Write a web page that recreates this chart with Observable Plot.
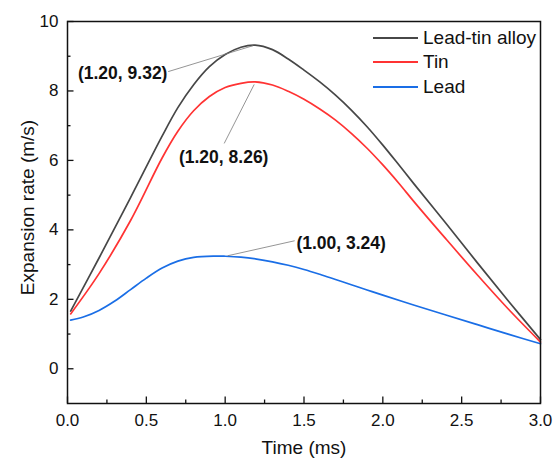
<!DOCTYPE html>
<html><head><meta charset="utf-8">
<script src="https://cdn.jsdelivr.net/npm/d3@7"></script>
<script src="https://cdn.jsdelivr.net/npm/@observablehq/plot@0.6"></script>
<style>
html,body{margin:0;padding:0;background:#fff;}
#wrap{position:relative;width:555px;height:458px;font-family:"Liberation Sans",Arial,sans-serif;}
#legend{position:absolute;left:373px;top:25.5px;font-size:19px;color:#111;}
.row{display:flex;align-items:center;height:24.5px;white-space:nowrap;}
.sw{width:45px;height:2px;margin-right:5px;}
</style></head><body><div id="wrap"></div>
<script>
// ---- data ----
const leadTinTime = [0.02, 0.2, 0.4, 0.6, 0.7, 0.8, 0.9, 1.0, 1.1, 1.19, 1.3, 1.4, 1.5, 1.6, 1.7, 1.8, 1.9, 2.0, 2.1, 2.2, 2.4, 2.6, 2.8, 3.0];
const leadTin     = [1.66, 3.19, 4.93, 6.70, 7.52, 8.18, 8.70, 9.05, 9.26, 9.32, 9.19, 8.92, 8.60, 8.26, 7.88, 7.45, 6.97, 6.44, 5.88, 5.31, 4.19, 3.05, 1.93, 0.84];
const tinTime     = [0.02, 0.2, 0.4, 0.6, 0.7, 0.8, 0.9, 1.0, 1.1, 1.19, 1.3, 1.4, 1.5, 1.6, 1.7, 1.8, 1.9, 2.0, 2.1, 2.2, 2.4, 2.6, 2.8, 3.0];
const tin         = [1.58, 2.74, 4.27, 6.07, 6.84, 7.43, 7.84, 8.10, 8.22, 8.26, 8.17, 7.99, 7.76, 7.48, 7.16, 6.78, 6.35, 5.87, 5.35, 4.80, 3.74, 2.70, 1.70, 0.77];
const leadTime    = [0.02, 0.1, 0.2, 0.3, 0.4, 0.5, 0.6, 0.7, 0.8, 0.93, 1.0, 1.1, 1.2, 1.3, 1.4, 1.5, 1.6, 1.7, 1.8, 1.9, 2.0, 2.2, 2.4, 2.6, 2.8, 3.0];
const lead        = [1.40, 1.49, 1.68, 1.95, 2.28, 2.61, 2.90, 3.10, 3.21, 3.245, 3.24, 3.215, 3.16, 3.08, 2.98, 2.86, 2.72, 2.57, 2.42, 2.27, 2.12, 1.83, 1.55, 1.27, 0.99, 0.72];
const seriesNames  = ["Lead-tin alloy", "Tin", "Lead"];
const seriesTimes  = [leadTinTime, tinTime, leadTime];
const seriesValues = [leadTin, tin, lead];
const seriesColors = ["#474747", "#ff3333", "#1a6ee6"];
const xTicks = [0, 0.5, 1, 1.5, 2, 2.5, 3];
const xMinor = [0.25, 0.75, 1.25, 1.75, 2.25, 2.75];
const yTicks = [0, 2, 4, 6, 8, 10];
const yMinor = [1, 3, 5, 7, 9];
const annX = [1.20, 1.20, 1.00];
const annY = [9.32, 8.26, 3.24];
const annLabels = ["(1.20, 9.32)", "(1.20, 8.26)", "(1.00, 3.24)"];

// ---- layout (pixel offsets, not data) ----
const labelOff  = [[-134, 28], [-33, 75], [116, -13]];
const leaderOff = [[-88, 27, -3, 1], [-32, 62, -2, 3], [70, -15, 3, 0]];
const W = 555, H = 458, mL = 67, mR = 15, mT = 21, mB = 55;
const innerW = W - mL - mR, innerH = H - mT - mB;
const FONT = '"Liberation Sans", Arial, sans-serif';

const rows = seriesNames.flatMap((s, k) => seriesTimes[k].map((t, i) => ({series: s, t, v: seriesValues[k][i]})));

function leaders(index, scales) {
  const g = d3.create("svg:g");
  annX.forEach((x, i) => {
    const px = scales.x(x), py = scales.y(annY[i]);
    const [a, b, c, d] = leaderOff[i];
    g.append("line").attr("x1", px + a).attr("y1", py + b).attr("x2", px + c).attr("y2", py + d)
      .attr("stroke", "#7a7a7a").attr("stroke-width", 0.8);
  });
  return g.node();
}

const annMarks = annLabels.map((lab, i) => Plot.text([i], {
  x: j => annX[j], y: j => annY[j], text: j => annLabels[j],
  dx: labelOff[i][0], dy: labelOff[i][1], fontWeight: "bold", fontSize: 17.5, fill: "#111"
}));

const chart = Plot.plot({
  width: W, height: H,
  marginLeft: mL, marginRight: mR, marginTop: mT, marginBottom: mB,
  style: {fontFamily: FONT, background: "#fff", color: "#111"},
  x: {domain: [0, 3]},
  y: {domain: [-1, 10]},
  color: {domain: seriesNames, range: seriesColors},
  marks: [
    Plot.line(rows, {x: "t", y: "v", z: "series", stroke: "series", strokeWidth: 1.7, curve: "catmull-rom"}),
    leaders,
    ...annMarks,
    Plot.tickX(xTicks, {x: d => d, insetTop: innerH - 6.5, stroke: "#111", strokeWidth: 1.3}),
    Plot.tickX(xMinor, {x: d => d, insetTop: innerH - 3.5, stroke: "#111", strokeWidth: 1.3}),
    Plot.tickY(yTicks, {y: d => d, insetRight: innerW - 6.5, stroke: "#111", strokeWidth: 1.3}),
    Plot.tickY(yMinor, {y: d => d, insetRight: innerW - 3.5, stroke: "#111", strokeWidth: 1.3}),
    Plot.axisX({ticks: xTicks, tickSize: 0, tickPadding: 10, tickFormat: d3.format(".1f"), fontSize: 17, label: null}),
    Plot.axisY({ticks: yTicks, tickSize: 0, tickPadding: 9, tickFormat: d3.format("d"), fontSize: 17, label: null}),
    Plot.text(["Time (ms)"], {frameAnchor: "bottom", dy: 44, lineAnchor: "middle", textAnchor: "middle", fontSize: 19, fill: "#111"}),
    Plot.text(["Expansion rate (m/s)"], {frameAnchor: "left", dx: -40, dy: -5, rotate: -90, textAnchor: "middle", lineAnchor: "middle", fontSize: 19, fill: "#111"}),
    Plot.frame({stroke: "#111", strokeWidth: 1.5})
  ]
});

const wrap = document.getElementById("wrap");
wrap.appendChild(chart);
const legend = document.createElement("div");
legend.id = "legend";
seriesNames.forEach((s, k) => {
  const row = document.createElement("div");
  row.className = "row";
  const sw = document.createElement("span");
  sw.className = "sw";
  sw.style.background = seriesColors[k];
  const tx = document.createElement("span");
  tx.textContent = s;
  row.appendChild(sw); row.appendChild(tx);
  legend.appendChild(row);
});
wrap.appendChild(legend);
</script></body></html>
